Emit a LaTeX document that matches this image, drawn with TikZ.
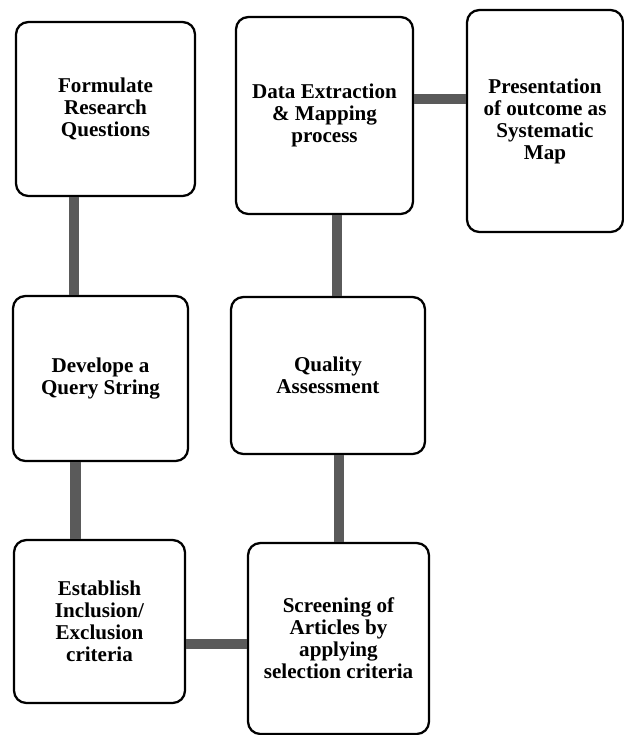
\documentclass[tikz,border=0pt]{standalone}
\usepackage{fontspec}
\setmainfont{Liberation Serif}
\tikzset{
  stage/.style={draw, line width=1.3pt, rounded corners=7pt, fill=white, align=center,
    font=\bfseries\fontsize{12}{12.5}\selectfont, inner sep=2pt},
  link/.style={line width=6.2pt, color=linkgray}
}
\definecolor{linkgray}{RGB}{90,90,90}
\begin{document}
\begin{tikzpicture}[x=0.02cm, y=-0.02cm]
\useasboundingbox (0,0) rectangle (624,735);
\node[stage, minimum width=3.58cm, minimum height=3.48cm] (rq) at (105.5,109) {Formulate\\Research\\Questions};
\node[stage, minimum width=3.54cm, minimum height=3.94cm] (dx) at (324.5,115.5) {Data Extraction\\\& Mapping\\process};
\node[stage, minimum width=3.12cm, minimum height=4.44cm] (map) at (545,121) {Presentation\\of outcome as\\Systematic\\Map};
\node[stage, minimum width=3.50cm, minimum height=3.30cm] (qs) at (100.5,378.5) {Develope a\\Query String};
\node[stage, minimum width=3.88cm, minimum height=3.14cm] (qa) at (328,375.5) {Quality\\Assessment};
\node[stage, minimum width=3.42cm, minimum height=3.26cm] (ie) at (99.5,621.5) {Establish\\Inclusion/\\Exclusion\\criteria};
\node[stage, minimum width=3.62cm, minimum height=3.82cm] (sc) at (338.5,638.5) {Screening of\\Articles by\\applying\\selection criteria};

\coordinate (c1) at (74,0);
\coordinate (c2) at (75.5,0);
\coordinate (c3) at (337,0);
\coordinate (c4) at (339,0);
\coordinate (r1) at (0,99);
\coordinate (r2) at (0,644);

\draw[link] (rq.south -| c1) -- (qs.north -| c1);
\draw[link] (qs.south -| c2) -- (ie.north -| c2);
\draw[link] (ie.east |- r2) -- (sc.west |- r2);
\draw[link] (sc.north -| c4) -- (qa.south -| c4);
\draw[link] (qa.north -| c3) -- (dx.south -| c3);
\draw[link] (dx.east |- r1) -- (map.west |- r1);
\end{tikzpicture}
\end{document}
